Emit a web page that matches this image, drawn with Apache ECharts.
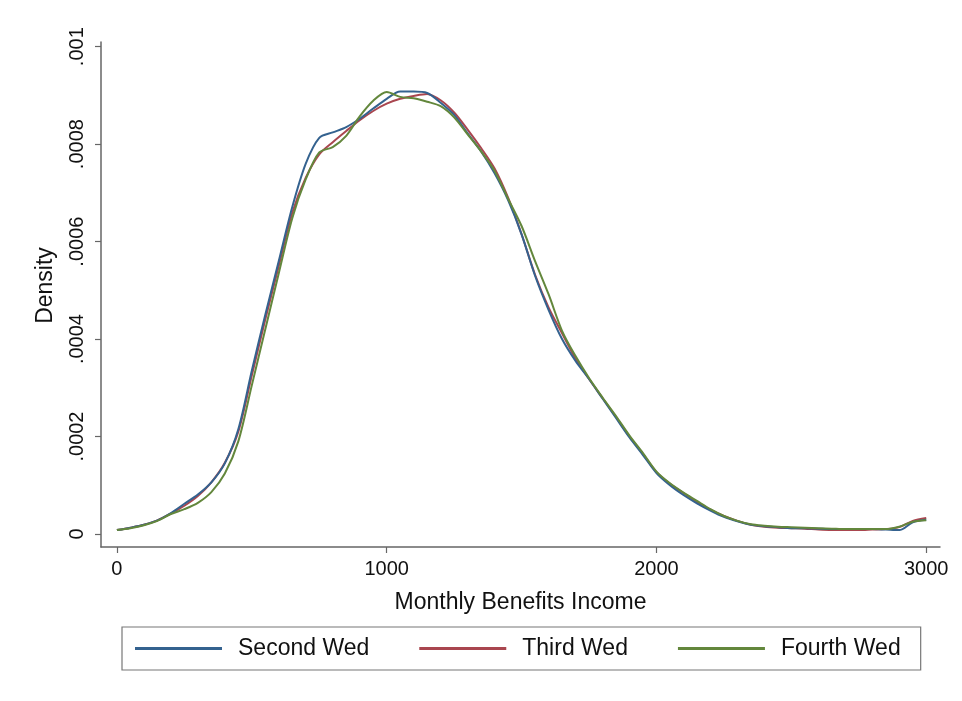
<!DOCTYPE html>
<html>
<head>
<meta charset="utf-8">
<script src="https://cdn.jsdelivr.net/npm/echarts@6/dist/echarts.min.js"></script>
<style>
html,body{margin:0;padding:0;background:#fff;}
#chart{width:962px;height:701px;}
</style>
</head>
<body>
<div id="chart"></div>
<script>
// Monthly benefits income (x) grid
const incomeX = [0,50,100,150,200,250,300,350,400,450,500,550,600,650,700,750,800,850,900,950,
  1000,1050,1100,1150,1200,1250,1300,1350,1400,1450,1500,1550,1600,1650,1700,1750,1800,1850,1900,1950,
  2000,2050,2100,2150,2200,2250,2300,2350,2400,2450,2500,2550,2600,2650,2700,2750,2800,2850,2900,2950,3000];

const secondWed = [0.08e-4,0.13e-4,0.19e-4,0.28e-4,0.43e-4,0.62e-4,0.81e-4,1.06e-4,1.45e-4,2.15e-4,
  3.35e-4,4.50e-4,5.60e-4,6.71e-4,7.60e-4,8.13e-4,8.24e-4,8.35e-4,8.52e-4,8.73e-4,
  8.93e-4,9.08e-4,9.08e-4,9.05e-4,8.85e-4,8.60e-4,8.22e-4,7.85e-4,7.40e-4,6.85e-4,
  6.15e-4,5.30e-4,4.60e-4,4.00e-4,3.55e-4,3.18e-4,2.78e-4,2.38e-4,1.98e-4,1.62e-4,
  1.25e-4,1.00e-4,0.80e-4,0.63e-4,0.48e-4,0.35e-4,0.26e-4,0.19e-4,0.16e-4,0.14e-4,
  0.12e-4,0.12e-4,0.11e-4,0.10e-4,0.10e-4,0.10e-4,0.10e-4,0.09e-4,0.08e-4,0.24e-4,0.29e-4];

const thirdWed = [0.08e-4,0.13e-4,0.19e-4,0.28e-4,0.42e-4,0.58e-4,0.78e-4,1.06e-4,1.46e-4,2.10e-4,
  3.25e-4,4.40e-4,5.50e-4,6.59e-4,7.31e-4,7.79e-4,8.04e-4,8.27e-4,8.49e-4,8.68e-4,
  8.83e-4,8.93e-4,8.99e-4,9.03e-4,8.90e-4,8.65e-4,8.30e-4,7.92e-4,7.50e-4,6.90e-4,
  6.15e-4,5.32e-4,4.65e-4,4.12e-4,3.60e-4,3.18e-4,2.79e-4,2.40e-4,2.00e-4,1.64e-4,
  1.27e-4,1.03e-4,0.84e-4,0.66e-4,0.50e-4,0.37e-4,0.27e-4,0.19e-4,0.15e-4,0.13e-4,
  0.12e-4,0.11e-4,0.09e-4,0.08e-4,0.08e-4,0.08e-4,0.09e-4,0.10e-4,0.14e-4,0.27e-4,0.33e-4];

const fourthWed = [0.08e-4,0.12e-4,0.18e-4,0.27e-4,0.41e-4,0.51e-4,0.64e-4,0.86e-4,1.24e-4,1.90e-4,
  3.05e-4,4.20e-4,5.35e-4,6.48e-4,7.28e-4,7.83e-4,7.94e-4,8.17e-4,8.57e-4,8.89e-4,
  9.07e-4,8.97e-4,8.94e-4,8.87e-4,8.78e-4,8.55e-4,8.20e-4,7.85e-4,7.45e-4,6.88e-4,
  6.32e-4,5.60e-4,4.92e-4,4.17e-4,3.65e-4,3.20e-4,2.80e-4,2.42e-4,2.02e-4,1.66e-4,
  1.28e-4,1.04e-4,0.85e-4,0.68e-4,0.51e-4,0.37e-4,0.27e-4,0.20e-4,0.17e-4,0.15e-4,
  0.14e-4,0.13e-4,0.12e-4,0.11e-4,0.10e-4,0.10e-4,0.10e-4,0.10e-4,0.15e-4,0.25e-4,0.28e-4];

const seriesNames = ['Second Wed','Third Wed','Fourth Wed'];
const xTicks = [0,1000,2000,3000];
const xTickLabels = ['0','1000','2000','3000'];
const yTicks = [0,0.0002,0.0004,0.0006,0.0008,0.001];
const yTickLabels = ['0','.0002','.0004','.0006','.0008','.001'];

const colors = ['#34628f','#a9464f','#63873c'];
const font = 'Liberation Sans, Arial, Helvetica, sans-serif';

function pairs(ys){ return incomeX.map((x,i)=>[x, ys[i]]); }
function lbl(vals, labels){ return v => { const i = vals.findIndex(t => Math.abs(t - v) < 1e-9); return i >= 0 ? labels[i] : ''; }; }

const axisCol = '#666';
const chart = echarts.init(document.getElementById('chart'), null, {renderer:'canvas'});
chart.setOption({
  animation:false,
  backgroundColor:'#fff',
  grid:{left:101, right:22, top:42, bottom:154, containLabel:false},
  xAxis:{
    type:'value', min:-59, max:3051,
    name:'Monthly Benefits Income', nameLocation:'middle', nameGap:44,
    nameTextStyle:{fontFamily:font, fontSize:23, color:'#111'},
    axisLine:{show:true, onZero:false, lineStyle:{color:axisCol, width:1.5}},
    axisTick:{show:true, length:6, lineStyle:{color:axisCol, width:1.2}, customValues:xTicks},
    axisLabel:{fontFamily:font, fontSize:20, color:'#111', margin:12, customValues:xTicks, formatter:lbl(xTicks,xTickLabels)},
    splitLine:{show:false}
  },
  yAxis:{
    type:'value', min:-0.0000267, max:0.0010096,
    name:'Density', nameLocation:'middle', nameGap:44, nameRotate:90,
    nameTextStyle:{fontFamily:font, fontSize:23, color:'#111', padding:[0,0,0,18]},
    axisLine:{show:true, onZero:false, lineStyle:{color:axisCol, width:1.5}},
    axisTick:{show:true, length:6, lineStyle:{color:axisCol, width:1.2}, customValues:yTicks},
    axisLabel:{fontFamily:font, fontSize:20, color:'#111', margin:14, rotate:90, customValues:yTicks, formatter:lbl(yTicks,yTickLabels)},
    splitLine:{show:false}
  },
  legend:{
    left:122, top:627,
    data:seriesNames,
    icon:'rect',
    itemWidth:87, itemHeight:3, itemGap:50,
    padding:[10,20,10,13],
    borderColor:'#777', borderWidth:1.2, borderRadius:0,
    textStyle:{fontFamily:font, fontSize:23, color:'#111', padding:[0,0,0,11]}
  },
  series:[
    {name:seriesNames[0], type:'line', data:pairs(secondWed), symbol:'none', smooth:0.3, lineStyle:{color:colors[0], width:2}, itemStyle:{color:colors[0]}, z:3},
    {name:seriesNames[1], type:'line', data:pairs(thirdWed), symbol:'none', smooth:0.3, lineStyle:{color:colors[1], width:2}, itemStyle:{color:colors[1]}, z:2},
    {name:seriesNames[2], type:'line', data:pairs(fourthWed), symbol:'none', smooth:0.3, lineStyle:{color:colors[2], width:2}, itemStyle:{color:colors[2]}, z:4}
  ]
});
</script>
</body>
</html>
